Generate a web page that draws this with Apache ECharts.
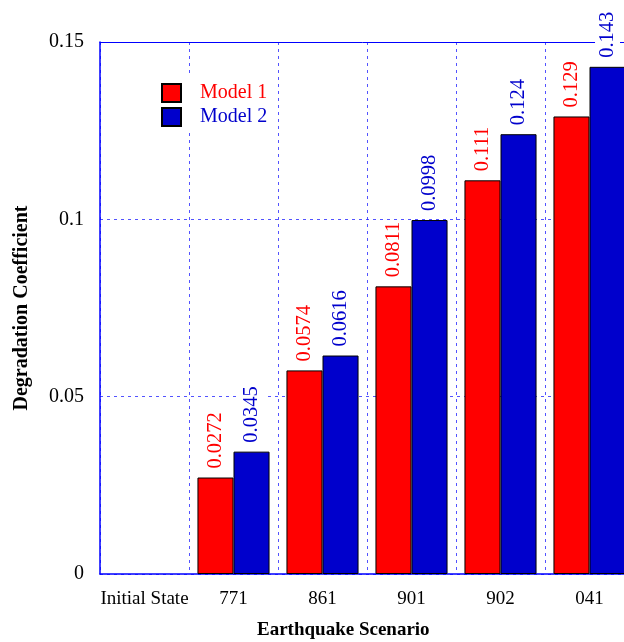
<!DOCTYPE html>
<html>
<head>
<meta charset="utf-8">
<script src="https://cdn.jsdelivr.net/npm/echarts@6/dist/echarts.min.js"></script>
<style>html,body{margin:0;padding:0;background:#fff;}#c{width:624px;height:642px;}</style>
</head>
<body>
<div id="c"></div>
<script>
const categories = ['Initial State', '771', '861', '901', '902', '041'];
const model1 = [null, 0.0272, 0.0574, 0.0811, 0.111, 0.129];
const model2 = [null, 0.0345, 0.0616, 0.0998, 0.124, 0.143];
const yTicks = [0, 0.05, 0.1, 0.15];

const FONT = "'Liberation Serif', 'Times New Roman', serif";
const RED = '#ff0000';
const BLUE = '#0000cc';
const GRID = 'rgba(40,40,255,0.8)';

const chart = echarts.init(document.getElementById('c'), null, {renderer: 'canvas'});

function labelFor(color) {
  return {
    show: true,
    position: 'top',
    rotate: 90,
    align: 'left',
    verticalAlign: 'middle',
    distance: 8,
    color: color,
    fontFamily: FONT,
    fontSize: 20.5,
    backgroundColor: '#fff',
    padding: [2, 1, 2, 1],
    formatter: p => String(p.value)
  };
}

chart.setOption({
  animation: false,
  backgroundColor: '#fff',
  grid: {left: 100, width: 534, top: 42, height: 532, containLabel: false, outerBoundsMode: 'none'},
  legend: {
    orient: 'vertical',
    left: 155,
    top: 77,
    itemWidth: 19,
    itemHeight: 18,
    itemGap: 4,
    padding: [6, 8, 6, 6],
    backgroundColor: '#fff',
    icon: 'rect',
    itemStyle: {borderColor: '#000', borderWidth: 2},
    textStyle: {fontFamily: FONT, fontSize: 20, padding: [0, 0, 0, 14]},
    data: [
      {name: 'Model 1', textStyle: {color: RED}},
      {name: 'Model 2', textStyle: {color: BLUE}}
    ]
  },
  xAxis: [{
    type: 'category',
    data: categories,
    position: 'bottom',
    axisLine: {show: true, lineStyle: {color: '#0000ff', width: 1.5}},
    axisTick: {show: false},
    axisLabel: {interval: 0, margin: 16, color: '#000', fontFamily: FONT, fontSize: 19},
    splitLine: {show: true, interval: 0, lineStyle: {color: GRID, type: [3, 4], width: 1}}
  }, {
    type: 'category',
    data: categories,
    position: 'top',
    axisLine: {show: true, lineStyle: {color: '#0000ff', width: 1}},
    axisTick: {show: false},
    axisLabel: {show: false},
    splitLine: {show: false}
  }],
  yAxis: {
    type: 'value',
    min: yTicks[0],
    max: yTicks[yTicks.length - 1],
    interval: 0.05,
    name: 'Degradation Coefficient',
    nameLocation: 'middle',
    nameGap: 68,
    nameTextStyle: {fontFamily: FONT, fontSize: 20, fontWeight: 'bold', color: '#000'},
    axisLine: {show: true, lineStyle: {color: '#0000ff', width: 1.5}},
    axisTick: {show: false},
    axisLabel: {margin: 16, color: '#000', fontFamily: FONT, fontSize: 20,
      formatter: v => String(+v.toFixed(2))},
    splitLine: {show: true, lineStyle: {color: GRID, type: [3, 4], width: 1}}
  },
  graphic: [{
    type: 'text',
    left: 257,
    top: 621,
    style: {text: 'Earthquake Scenario', font: "bold 19px 'Liberation Serif', 'Times New Roman', serif", fill: '#000'}
  }],
  series: [{
    name: 'Model 1',
    type: 'bar',
    data: model1,
    barGap: '0%',
    barCategoryGap: '19%',
    itemStyle: {color: RED, borderColor: '#000', borderWidth: 1},
    label: labelFor(RED),
    z: 3
  }, {
    name: 'Model 2',
    type: 'bar',
    data: model2,
    barGap: '0%',
    barCategoryGap: '19%',
    itemStyle: {color: BLUE, borderColor: '#000', borderWidth: 1},
    label: labelFor(BLUE),
    z: 3
  }]
});
</script>
</body>
</html>
